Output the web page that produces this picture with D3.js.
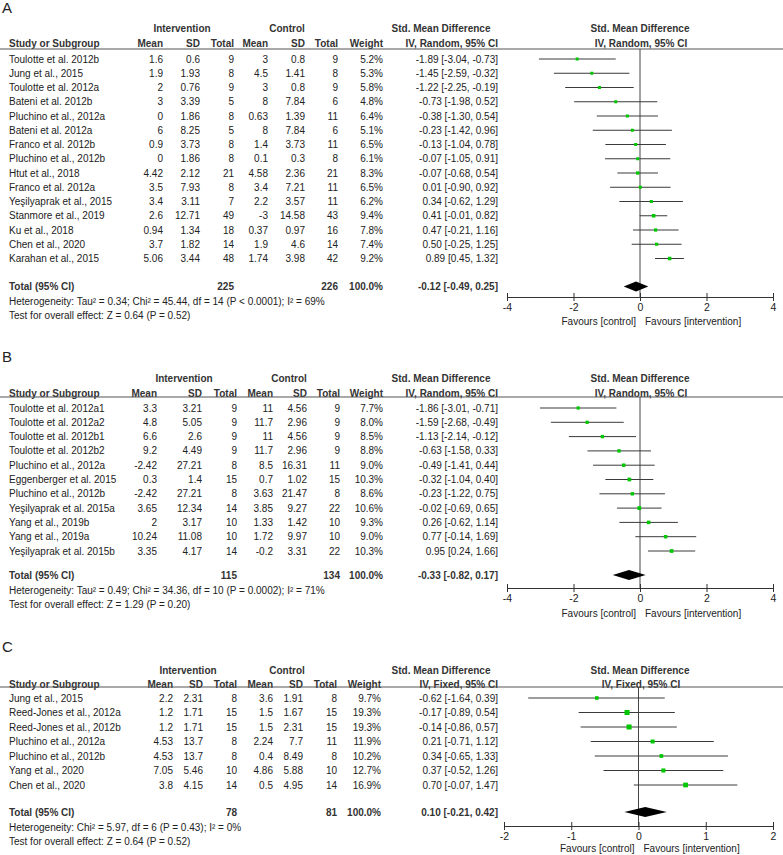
<!DOCTYPE html>
<html>
<head>
<meta charset="utf-8">
<script src="https://cdn.jsdelivr.net/npm/d3@7"></script>
<style>
  body { margin: 0; background: #fff; }
  text { font-family: Arial, "Liberation Sans", sans-serif; }
</style>
</head>
<body>
<script>
// ---- panel A data (Random effects) ----
var studiesA = ["Toulotte et al. 2012b","Jung et al., 2015","Toulotte et al. 2012a","Bateni et al. 2012b","Pluchino et al., 2012a","Bateni et al. 2012a","Franco et al. 2012b","Pluchino et al., 2012b","Htut et al., 2018","Franco et al. 2012a","Yeşilyaprak et al., 2015","Stanmore et al., 2019","Ku et al., 2018","Chen et al., 2020","Karahan et al., 2015"];
var intMeanA = [1.6,1.9,2,3,0,6,0.9,0,4.42,3.5,3.4,2.6,0.94,3.7,5.06];
var intSdA = [0.6,1.93,0.76,3.39,1.86,8.25,3.73,1.86,2.12,7.93,3.11,12.71,1.34,1.82,3.44];
var intNA = [9,8,9,5,8,5,8,8,21,8,7,49,18,14,48];
var ctlMeanA = [3,4.5,3,8,0.63,8,1.4,0.1,4.58,3.4,2.2,-3,0.37,1.9,1.74];
var ctlSdA = [0.8,1.41,0.8,7.84,1.39,7.84,3.73,0.3,2.36,7.21,3.57,14.58,0.97,4.6,3.98];
var ctlNA = [9,8,9,6,11,6,11,8,21,11,11,43,16,14,42];
var weightA = [5.2,5.3,5.8,4.8,6.4,5.1,6.5,6.1,8.3,6.5,6.2,9.4,7.8,7.4,9.2];
var smdA = [-1.89,-1.45,-1.22,-0.73,-0.38,-0.23,-0.13,-0.07,-0.07,0.01,0.34,0.41,0.47,0.50,0.89];
var loA = [-3.04,-2.59,-2.25,-1.98,-1.30,-1.42,-1.04,-1.05,-0.68,-0.90,-0.62,-0.01,-0.21,-0.25,0.45];
var hiA = [-0.73,-0.32,-0.19,0.52,0.54,0.96,0.78,0.91,0.54,0.92,1.29,0.82,1.16,1.25,1.32];
var totalA = [225, 226, -0.12, -0.49, 0.25];
var ticksA = [-4,-2,0,2,4];

// ---- panel B data (Random effects) ----
var studiesB = ["Toulotte et al. 2012a1","Toulotte et al. 2012a2","Toulotte et al. 2012b1","Toulotte et al. 2012b2","Pluchino et al., 2012a","Eggenberger et al. 2015","Pluchino et al., 2012b","Yeşilyaprak et al. 2015a","Yang et al., 2019b","Yang et al., 2019a","Yeşilyaprak et al. 2015b"];
var intMeanB = [3.3,4.8,6.6,9.2,-2.42,0.3,-2.42,3.65,2,10.24,3.35];
var intSdB = [3.21,5.05,2.6,4.49,27.21,1.4,27.21,12.34,3.17,11.08,4.17];
var intNB = [9,9,9,9,8,15,8,14,10,10,14];
var ctlMeanB = [11,11.7,11,11.7,8.5,0.7,3.63,3.85,1.33,1.72,-0.2];
var ctlSdB = [4.56,2.96,4.56,2.96,16.31,1.02,21.47,9.27,1.42,9.97,3.31];
var ctlNB = [9,9,9,9,11,15,8,22,10,10,22];
var weightB = [7.7,8.0,8.5,8.8,9.0,10.3,8.6,10.6,9.3,9.0,10.3];
var smdB = [-1.86,-1.59,-1.13,-0.63,-0.49,-0.32,-0.23,-0.02,0.26,0.77,0.95];
var loB = [-3.01,-2.68,-2.14,-1.58,-1.41,-1.04,-1.22,-0.69,-0.62,-0.14,0.24];
var hiB = [-0.71,-0.49,-0.12,0.33,0.44,0.40,0.75,0.65,1.14,1.69,1.66];
var totalB = [115, 134, -0.33, -0.82, 0.17];
var ticksB = [-4,-2,0,2,4];

// ---- panel C data (Fixed effects) ----
var studiesC = ["Jung et al., 2015","Reed-Jones et al., 2012a","Reed-Jones et al., 2012b","Pluchino et al., 2012a","Pluchino et al., 2012b","Yang et al., 2020","Chen et al., 2020"];
var intMeanC = [2.2,1.2,1.2,4.53,4.53,7.05,3.8];
var intSdC = [2.31,1.71,1.71,13.7,13.7,5.46,4.15];
var intNC = [8,15,15,8,8,10,14];
var ctlMeanC = [3.6,1.5,1.5,2.24,0.4,4.86,0.5];
var ctlSdC = [1.91,1.67,2.31,7.7,8.49,5.88,4.95];
var ctlNC = [8,15,15,11,8,10,14];
var weightC = [9.7,19.3,19.3,11.9,10.2,12.7,16.9];
var smdC = [-0.62,-0.17,-0.14,0.21,0.34,0.37,0.70];
var loC = [-1.64,-0.89,-0.86,-0.71,-0.65,-0.52,-0.07];
var hiC = [0.39,0.54,0.57,1.12,1.33,1.26,1.47];
var totalC = [78, 81, 0.10, -0.21, 0.42];
var ticksC = [-2,-1,0,1,2];

var W = 783, H = 855;
var svg = d3.select("body").append("svg").attr("width", W).attr("height", H);

var f2 = function(v){ return v.toFixed(2); };
var ciText = function(m, l, h){ return f2(m) + " [" + f2(l) + ", " + f2(h) + "]"; };

// draws one forest plot panel
function drawPanel(p) {
  var g = svg.append("g");
  var col = p.cols;   // right edges of number columns
  var txt = function(x, y, s, anchor, bold, size) {
    return g.append("text").attr("x", x).attr("y", y + 3.5)
      .attr("text-anchor", anchor || "start")
      .attr("font-size", size || 10)
      .attr("font-weight", bold ? "bold" : "normal")
      .attr("fill", bold ? "#333" : "#222")
      .text(s);
  };

  // panel letter
  g.append("text").attr("x", 2).attr("y", p.labelY + 5)
    .attr("font-family", "'Liberation Serif', 'Times New Roman', serif")
    .attr("font-size", 15).attr("fill", "#222").text(p.letter);

  // headers
  txt(p.intC, p.h1, "Intervention", "middle", true);
  txt(p.ctlC, p.h1, "Control", "middle", true);
  txt(441, p.h1, "Std. Mean Difference", "middle", true);
  txt(640, p.h1, "Std. Mean Difference", "middle", true);
  txt(9, p.h2, "Study or Subgroup", "start", true);
  ["Mean","SD","Total","Mean","SD","Total","Weight"].forEach(function(h, i){
    txt(col[i], p.h2, h, "end", true);
  });
  txt(498, p.h2, p.method, "end", true);
  txt(641, p.h2, p.method, "middle", true);
  g.append("line").attr("x1", 0).attr("x2", W).attr("y1", p.line).attr("y2", p.line)
    .attr("stroke", "#555").attr("stroke-width", 1.2);

  var x = d3.scaleLinear().domain(p.domain).range([p.x0, 773]);
  var y = function(i){ return p.row0 + i * p.step; };

  // zero line
  g.append("line").attr("x1", x(0)).attr("x2", x(0)).attr("y1", p.line).attr("y2", p.axisY)
    .attr("stroke", "#444").attr("stroke-width", 1);

  // table rows
  p.studies.forEach(function(s, i){
    var yy = y(i);
    txt(9, yy, s);
    var vals = [p.im[i], p.isd[i], p.inn[i], p.cm[i], p.csd[i], p.cn[i], p.w[i].toFixed(1) + "%"];
    vals.forEach(function(v, j){ txt(col[j], yy, String(v), "end"); });
    txt(498, yy, ciText(p.smd[i], p.lo[i], p.hi[i]), "end");
  });

  // CI lines and squares
  var rows = p.studies.map(function(s, i){ return i; });
  g.selectAll(".ci").data(rows).enter().append("line")
    .attr("x1", function(i){ return x(p.lo[i]); })
    .attr("x2", function(i){ return x(p.hi[i]); })
    .attr("y1", function(i){ return y(i); })
    .attr("y2", function(i){ return y(i); })
    .attr("stroke", "#3a3a3a").attr("stroke-width", 1);
  g.selectAll(".sq").data(rows).enter().append("rect")
    .each(function(i){
      var s = Math.max(3, 1.15 * Math.sqrt(p.w[i]));
      d3.select(this).attr("x", x(p.smd[i]) - s / 2).attr("y", y(i) - s / 2)
        .attr("width", s).attr("height", s);
    })
    .attr("fill", "#00c800");

  // total row
  var t = p.total;
  txt(9, p.totalY, "Total (95% CI)", "start", true);
  txt(col[2], p.totalY, String(t[0]), "end", true);
  txt(col[5], p.totalY, String(t[1]), "end", true);
  txt(col[6], p.totalY, "100.0%", "end", true);
  txt(498, p.totalY, ciText(t[2], t[3], t[4]), "end", true);
  g.append("path")
    .attr("d", "M" + x(t[3]) + "," + p.totalY + "L" + x(t[2]) + "," + (p.totalY - 5) +
      "L" + x(t[4]) + "," + p.totalY + "L" + x(t[2]) + "," + (p.totalY + 5) + "Z")
    .attr("fill", "#000");

  txt(9, p.totalY + 15, p.het);
  txt(9, p.totalY + 29, p.test);

  // axis
  var ax = g.append("g").attr("transform", "translate(0," + p.axisY + ")")
    .call(d3.axisBottom(x).tickValues(p.ticks).tickSizeOuter(0).tickSize(4)
      .tickFormat(function(d){ return String(d); }));
  ax.select(".domain").attr("stroke", "#333");
  ax.selectAll(".tick line").attr("y1", -4).attr("y2", 4).attr("stroke", "#333");
  ax.selectAll(".tick text").attr("font-size", 10.5).attr("fill", "#222")
    .attr("font-family", "Arial, 'Liberation Sans', sans-serif").attr("y", 7);

  txt(x(0) - 4, p.favY, "Favours [control]", "end");
  txt(x(0) + 5, p.favY, "Favours [intervention]", "start");
}

drawPanel({
  letter: "A", labelY: 8, h1: 28, h2: 43, line: 49, row0: 59, step: 14.25,
  totalY: 286.5, axisY: 297, favY: 321, intC: 182, ctlC: 287,
  cols: [163, 200, 234, 268, 305, 338, 383],
  method: "IV, Random, 95% CI", domain: [-4, 4], x0: 507, ticks: ticksA,
  studies: studiesA, im: intMeanA, isd: intSdA, inn: intNA, cm: ctlMeanA, csd: ctlSdA, cn: ctlNA,
  w: weightA, smd: smdA, lo: loA, hi: hiA, total: totalA,
  het: "Heterogeneity: Tau² = 0.34; Chi² = 45.44, df = 14 (P < 0.0001); I² = 69%",
  test: "Test for overall effect: Z = 0.64 (P = 0.52)"
});

drawPanel({
  letter: "B", labelY: 357, h1: 378, h2: 393, line: 397, row0: 408, step: 14.3,
  totalY: 575, axisY: 588, favY: 613, intC: 184, ctlC: 289,
  cols: [157, 202, 237, 273, 307, 340, 383],
  method: "IV, Random, 95% CI", domain: [-4, 4], x0: 507, ticks: ticksB,
  studies: studiesB, im: intMeanB, isd: intSdB, inn: intNB, cm: ctlMeanB, csd: ctlSdB, cn: ctlNB,
  w: weightB, smd: smdB, lo: loB, hi: hiB, total: totalB,
  het: "Heterogeneity: Tau² = 0.49; Chi² = 34.36, df = 10 (P = 0.0002); I² = 71%",
  test: "Test for overall effect: Z = 1.29 (P = 0.20)"
});

drawPanel({
  letter: "C", labelY: 647, h1: 670, h2: 684, line: 687, row0: 698, step: 14.5,
  totalY: 812, axisY: 826, favY: 848, intC: 188, ctlC: 287,
  cols: [173, 203, 237, 273, 303, 337, 381],
  method: "IV, Fixed, 95% CI", domain: [-2, 2], x0: 504, ticks: ticksC,
  studies: studiesC, im: intMeanC, isd: intSdC, inn: intNC, cm: ctlMeanC, csd: ctlSdC, cn: ctlNC,
  w: weightC, smd: smdC, lo: loC, hi: hiC, total: totalC,
  het: "Heterogeneity: Chi² = 5.97, df = 6 (P = 0.43); I² = 0%",
  test: "Test for overall effect: Z = 0.64 (P = 0.52)"
});
</script>
</body>
</html>
